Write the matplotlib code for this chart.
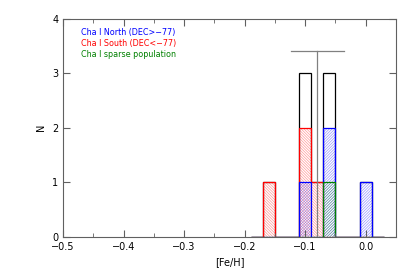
import numpy as np
import matplotlib.pyplot as plt
from matplotlib.ticker import MultipleLocator

# bin edges of the [Fe/H] histogram (width 0.02)
edges = [-0.19, -0.17, -0.15, -0.13, -0.11, -0.09, -0.07, -0.05, -0.03, -0.01, 0.01, 0.03]
n_total = [0, 1, 0, 0, 3, 1, 3, 0, 0, 1, 0]
n_north = [0, 0, 0, 0, 1, 0, 2, 0, 0, 1, 0]
n_south = [0, 1, 0, 0, 2, 1, 0, 0, 0, 0, 0]
n_sparse = [0, 0, 0, 0, 0, 0, 1, 0, 0, 0, 0]

feh_mean = -0.08
feh_std = 0.044
err_top = 3.4

labels = ['Cha I North (DEC>\u221277)', 'Cha I South (DEC<\u221277)', 'Cha I sparse population']
colors = ['#0000ff', '#ff0000', '#008000']

plt.rcParams['hatch.linewidth'] = 0.5
fig = plt.figure(figsize=(4.15, 2.77), dpi=100)
ax = fig.add_axes([0.152, 0.145, 0.802, 0.788])

edges = np.array(edges)
left = edges[:-1]
width = np.diff(edges)

# black outline of the total
ax.stairs(n_total, edges, color='black', lw=0.9, baseline=0)

for counts, col, hatch in [(n_south, colors[1], '\\' * 12),
                           (n_north, colors[0], '/' * 12),
                           (n_sparse, colors[2], '/' * 12)]:
    counts = np.array(counts)
    ax.bar(left, counts, width=width, align='edge', fill=False,
           hatch=hatch, edgecolor=col, alpha=0.4, lw=0)
    ax.stairs(counts, edges, color=col, lw=0.9, baseline=0)

# mean and dispersion
ax.plot([feh_mean, feh_mean], [0, err_top], color='#808080', lw=0.9)
ax.plot([feh_mean - feh_std, feh_mean + feh_std], [err_top, err_top], color='#808080', lw=0.9)

ax.set_xlim(-0.5, 0.05)
ax.set_ylim(0, 4)
ax.xaxis.set_major_locator(MultipleLocator(0.1))
ax.xaxis.set_minor_locator(MultipleLocator(0.05))
ax.yaxis.set_major_locator(MultipleLocator(1))
ax.tick_params(which='both', direction='in', top=True, right=True, labelsize=7, color='#606060')
ax.tick_params(which='major', length=5)
ax.tick_params(which='minor', length=3)
for s in ax.spines.values():
    s.set_color('#606060')
    s.set_linewidth(0.8)
ax.set_xticks([-0.5, -0.4, -0.3, -0.2, -0.1, 0.0])
ax.set_xticklabels([('%.1f' % t).replace('-', '\u2212') for t in [-0.5, -0.4, -0.3, -0.2, -0.1, 0.0]])
ax.set_xlabel('[Fe/H]', fontsize=7)
ax.set_ylabel('N', fontsize=7)

for i, (lab, col) in enumerate(zip(labels, colors)):
    ax.text(0.054, 0.935 - i * 0.05, lab, color=col, fontsize=5.8,
            transform=ax.transAxes, va='center')

fig.savefig('out.png', dpi=100)
